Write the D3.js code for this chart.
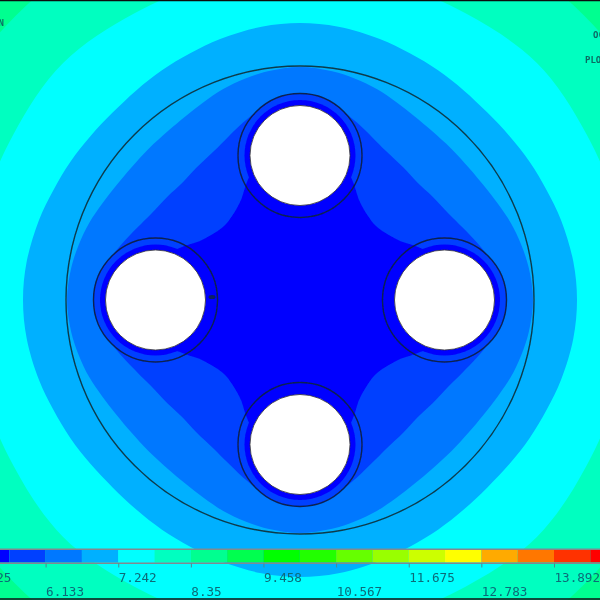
<!DOCTYPE html>
<html>
<head>
<meta charset="utf-8">
<script src="https://cdn.jsdelivr.net/npm/d3@7"></script>
<style>
body { margin: 0; background: #fff; }
svg { display: block; }
text { font-family: "DejaVu Sans Mono", monospace; }
</style>
</head>
<body>
<svg id="chart"></svg>
<script>
// contour bands, outermost first. radii, one octant (0 = on axis, 45 = diagonal)
const bandColors = ['#00ff90', '#00ffc0', '#00ffff', '#00b0ff', '#0078ff', '#0040ff', '#0000ff'];
const cornerAngles = [0, 15, 30, 45];
const cornerRadii = [405, 404, 403, 402];
const tealAngles = [0, 15, 30, 45];
const tealRadii = [329, 330, 331, 335];
const cyanAngles = [0, 8, 17, 24, 31, 38, 45];
const cyanRadii = [277, 276, 273, 270, 268, 266, 265];
const lightAngles = [0, 8, 14, 20, 26, 32, 38, 45];
const lightRadii = [233, 231, 228, 224.5, 220, 216.5, 214.5, 214];
const midAngles = [0, 5, 10, 18, 24, 30, 38, 45];
const midRadii = [205, 203, 198, 186, 178, 172, 168, 166];
const coreAngles = [0, 8, 15, 19, 23, 26.6, 30, 34, 39, 45];
const coreRadii = [145, 145, 145, 141, 132, 124, 117, 112, 108, 106];

// legend
const legendBreaks = [5.025, 5.579, 6.133, 6.687, 7.242, 7.796, 8.35, 8.904, 9.458, 10.013,
    10.567, 11.121, 11.675, 12.229, 12.783, 13.338, 13.892, 14.446, 15];
const legendColors = ['#0000ff', '#0040ff', '#0078ff', '#00b0ff', '#00ffff', '#00ffc0', '#00ff90', '#00ff50',
    '#00ff00', '#22ff00', '#66ff00', '#99ff00', '#ccff00', '#ffff00', '#ffaa00', '#ff7700', '#ff3300', '#ff0000'];
const tickLabels = ['5.025', '6.133', '7.242', '8.35', '9.458', '10.567', '11.675', '12.783', '13.892'];

// part geometry
const holeOffset = 144.5;
const holeAngles = [0, 90, 180, 270];
const holeRadius = 50;
const innerRadius = 55.5;
const ringRadius = 62;
const shellRadius = 234;

const width = 600, height = 600;
const cx = 300, cy = 300;

const svg = d3.select('#chart').attr('width', width).attr('height', height);

const defs = svg.append('defs');
defs.append('filter').attr('id', 'soft')
    .attr('x', 0).attr('y', 0).attr('width', 1).attr('height', 1)
    .append('feGaussianBlur').attr('stdDeviation', 0.55);

const chart = svg.append('g').attr('filter', 'url(#soft)');
chart.append('rect').attr('width', width).attr('height', height).attr('fill', bandColors[0]);

const plot = chart.append('g').attr('transform', `translate(${cx}, ${cy})`);

// same scale on both axes, picture is square
const rscale = d3.scaleLinear().domain([0, 600]).range([0, 600]);
const radian = d3.scaleLinear().domain([0, 180]).range([0, Math.PI]);

// repeat one octant around the whole circle
function unfold(angles, radii) {
    const pts = [];
    for (let q = 0; q < 4; q++) {
        angles.forEach((a, i) => pts.push([q * 90 + a, radii[i]]));
        for (let i = angles.length - 2; i > 0; i--) {
            pts.push([q * 90 + 90 - angles[i], radii[i]]);
        }
    }
    return pts;
}

const radial = d3.lineRadial()
    .angle(d => radian(d[0]))
    .radius(d => rscale(d[1]))
    .curve(d3.curveCatmullRomClosed.alpha(0.5));

function band(angles, radii, color) {
    plot.append('path').attr('d', radial(unfold(angles, radii))).attr('fill', color);
}

band(cornerAngles, cornerRadii, bandColors[1]);
band(tealAngles, tealRadii, bandColors[2]);
band(cyanAngles, cyanRadii, bandColors[3]);
band(lightAngles, lightRadii, bandColors[4]);
band(midAngles, midRadii, bandColors[5]);

const holeX = a => rscale(holeOffset) * Math.sin(radian(a));
const holeY = a => -rscale(holeOffset) * Math.cos(radian(a));

// ring area takes the diamond colour, the core is painted over its inner half
plot.selectAll('.ringfill').data(holeAngles).join('circle')
    .attr('class', 'ringfill')
    .attr('cx', holeX).attr('cy', holeY).attr('r', rscale(ringRadius))
    .attr('fill', bandColors[5]);

band(coreAngles, coreRadii, bandColors[6]);

plot.selectAll('.inner').data(holeAngles).join('circle')
    .attr('class', 'inner')
    .attr('cx', holeX).attr('cy', holeY).attr('r', rscale(innerRadius))
    .attr('fill', bandColors[6]);

plot.append('circle').attr('r', rscale(shellRadius))
    .attr('fill', 'none').attr('stroke', '#0b3a4a').attr('stroke-width', 1.4);

plot.selectAll('.ring').data(holeAngles).join('circle')
    .attr('class', 'ring')
    .attr('cx', holeX).attr('cy', holeY).attr('r', rscale(ringRadius))
    .attr('fill', 'none').attr('stroke', '#0b2050').attr('stroke-width', 1.4);

plot.selectAll('.hole').data(holeAngles).join('circle')
    .attr('class', 'hole')
    .attr('cx', holeX).attr('cy', holeY).attr('r', rscale(holeRadius))
    .attr('fill', '#fff').attr('stroke', '#333').attr('stroke-width', 0.8);

// little dark node mark just right of the left hole
plot.append('ellipse')
    .attr('cx', holeX(270) + rscale(holeRadius + 6.5))
    .attr('cy', rscale(-3))
    .attr('rx', 3.5).attr('ry', 2)
    .attr('fill', '#0a2060');

// legend bar
const xscale = d3.scaleLinear().domain([5.025, 13.892]).range([-27, 554]);
const barTop = 550, barHeight = 12.5;

const legend = chart.append('g');
legend.selectAll('rect').data(legendColors).join('rect')
    .attr('x', (d, i) => xscale(legendBreaks[i]))
    .attr('y', barTop)
    .attr('width', (d, i) => xscale(legendBreaks[i + 1]) - xscale(legendBreaks[i]))
    .attr('height', barHeight)
    .attr('fill', d => d);

[barTop - 0.8, barTop + barHeight + 0.8].forEach(y => {
    legend.append('line').attr('x1', 0).attr('x2', width).attr('y1', y).attr('y2', y)
        .attr('stroke', '#808a90').attr('stroke-width', 1.6);
});

const xaxis = d3.axisBottom(xscale)
    .tickValues(tickLabels.map(Number))
    .tickFormat((d, i) => tickLabels[i])
    .tickSize(4);

const xaxis_group = legend.append('g')
    .attr('transform', `translate(0, ${barTop + barHeight + 1})`)
    .call(xaxis);
xaxis_group.select('.domain').remove();
xaxis_group.selectAll('line').attr('stroke', '#4a8a90');
xaxis_group.selectAll('text')
    .attr('text-anchor', 'start')
    .attr('x', 0)
    .attr('dy', 0)
    .attr('y', (d, i) => i % 2 ? 32 : 18.5)
    .attr('font-size', 12.6)
    .attr('fill', '#0a6a78');

// plot notes cut by the frame
const notes = chart.append('g').attr('font-size', 9).attr('font-weight', 'bold').attr('fill', '#0a6a62');
notes.append('text').attr('x', 4).attr('y', 26).attr('text-anchor', 'end').text('NODAL SOLUTION');
notes.append('text').attr('x', 593).attr('y', 38).text('OCT');
notes.append('text').attr('x', 585).attr('y', 63).text('PLOT NO. 1');

// frame lines
chart.append('line').attr('x1', 0).attr('x2', width).attr('y1', 0.5).attr('y2', 0.5)
    .attr('stroke', '#111').attr('stroke-width', 1.5);
chart.append('line').attr('x1', 0).attr('x2', width).attr('y1', 599).attr('y2', 599)
    .attr('stroke', '#111').attr('stroke-width', 1.5);
</script>
</body>
</html>
